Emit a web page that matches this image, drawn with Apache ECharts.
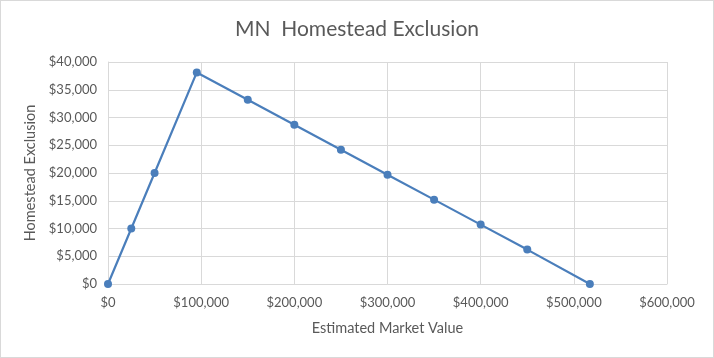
<!DOCTYPE html>
<html><head><meta charset="utf-8">
<script src="https://cdn.jsdelivr.net/npm/echarts@6/dist/echarts.min.js"></script>
<style>html,body{margin:0;padding:0;background:#fff}#c{width:714px;height:358px;box-sizing:border-box;border:1px solid #d9d9d9}</style>
</head><body><div id="c"></div>
<script>
var marketValues = [0, 25000, 50000, 95300, 150000, 200000, 250000, 300000, 350000, 400000, 450000, 517200];
var exclusions = [0, 10000, 20000, 38120, 33200, 28700, 24200, 19700, 15200, 10700, 6200, 0];
var title = 'MN  Homestead Exclusion';
var xName = 'Estimated Market Value';
var yName = 'Homestead Exclusion';

var fmt = function (v) { return '$' + v.toLocaleString('en-US'); };
var font = 'Lato, "Open Sans", sans-serif';
var chart = echarts.init(document.getElementById('c'));
chart.setOption({
  animation: false,
  title: { text: title, left: 'center', top: 13, textStyle: { fontFamily: font, fontSize: 21, fontWeight: 'normal', color: '#595959' } },
  grid: { left: 107, right: 46, top: 61, bottom: 73 },
  xAxis: {
    type: 'value', min: 0, max: 600000, interval: 100000,
    name: xName, nameLocation: 'middle', nameGap: 37,
    nameTextStyle: { fontFamily: font, fontSize: 14.5, color: '#595959' },
    axisLine: { show: true, lineStyle: { color: '#d9d9d9' } },
    axisTick: { show: false },
    axisLabel: { formatter: fmt, fontFamily: font, fontSize: 13, color: '#595959', margin: 12 },
    splitLine: { show: true, lineStyle: { color: '#d9d9d9' } }
  },
  yAxis: {
    type: 'value', min: 0, max: 40000, interval: 5000,
    name: yName, nameLocation: 'middle', nameGap: 70,
    nameTextStyle: { fontFamily: font, fontSize: 14.5, color: '#595959' },
    axisLine: { show: true, lineStyle: { color: '#d9d9d9' } },
    axisTick: { show: false },
    axisLabel: { formatter: fmt, fontFamily: font, fontSize: 13, color: '#595959', margin: 11 },
    splitLine: { show: true, lineStyle: { color: '#d9d9d9' } }
  },
  series: [{
    type: 'line',
    data: marketValues.map(function (x, i) { return [x, exclusions[i]]; }),
    symbol: 'circle', symbolSize: 8,
    lineStyle: { color: '#4a7ebb', width: 2.2 },
    itemStyle: { color: '#4a7ebb' }
  }]
});
</script></body></html>
